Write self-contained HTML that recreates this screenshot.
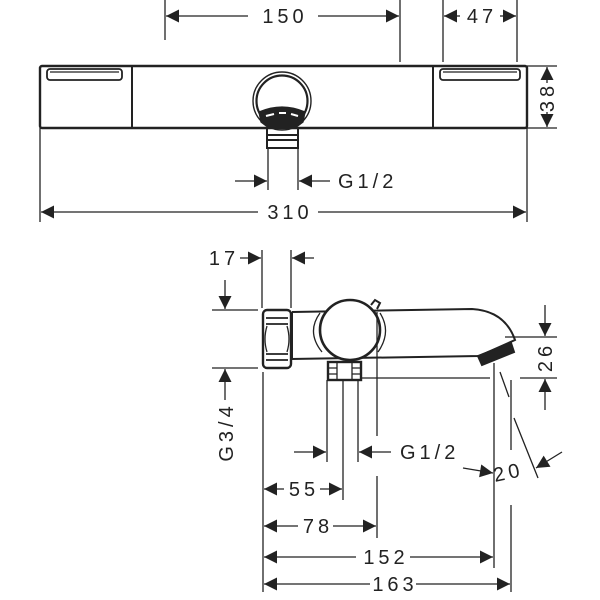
<!DOCTYPE html>
<html><head><style>html,body{margin:0;padding:0;background:#fff}svg{display:block}text{font-family:"Liberation Sans",sans-serif;font-size:20px;fill:#222;letter-spacing:4px}</style></head><body>
<svg width="600" height="600" viewBox="0 0 600 600" xmlns="http://www.w3.org/2000/svg">
<defs>
<marker id="a" viewBox="0 0 10 10" refX="10" refY="5" markerWidth="15" markerHeight="13" markerUnits="userSpaceOnUse" orient="auto-start-reverse"><path d="M0,0L10,5L0,10z" fill="#222"/></marker>
</defs>
<g stroke="#222" stroke-width="1.3" fill="none">
<!-- top view dims -->
<line x1="165" y1="0" x2="165" y2="40"/><line x1="400" y1="0" x2="400" y2="62"/>
<line x1="166" y1="16" x2="248" y2="16" marker-start="url(#a)"/><line x1="318" y1="16" x2="399" y2="16" marker-end="url(#a)"/>
<line x1="443" y1="0" x2="443" y2="62"/><line x1="517" y1="0" x2="517" y2="62"/>
<line x1="444" y1="16" x2="460" y2="16" marker-start="url(#a)"/><line x1="500" y1="16" x2="516" y2="16" marker-end="url(#a)"/>
<line x1="527" y1="66" x2="557" y2="66"/><line x1="527" y1="128" x2="557" y2="128"/>
<line x1="547" y1="67" x2="547" y2="83" marker-start="url(#a)"/><line x1="547" y1="112" x2="547" y2="127" marker-end="url(#a)"/>
<!-- body -->
<rect x="40" y="66" width="487" height="62" rx="2" stroke-width="2.4"/>
<line x1="132" y1="67" x2="132" y2="127" stroke-width="2"/><line x1="433" y1="67" x2="433" y2="127" stroke-width="2"/>
<rect x="47" y="69" width="75" height="11" rx="3" stroke-width="1.8"/><line x1="50" y1="72" x2="119" y2="72"/>
<rect x="440" y="69" width="80" height="11" rx="3" stroke-width="1.8"/><line x1="443" y1="72" x2="517" y2="72"/>
<circle cx="282" cy="101" r="29" stroke-width="1.4"/><circle cx="282" cy="101" r="25.5" stroke-width="2.2"/>
<path d="M259,112 Q282,102 305,112 L303,122 L295,128 L269,128 L261,122 Z" fill="#222"/>
<path d="M266,116 L274,114 M279,113 L286,113 M291,114 L298,116" stroke="#fff" stroke-width="2"/>
<rect x="267" y="128" width="31" height="20" stroke-width="2"/><line x1="268" y1="135" x2="297" y2="135" stroke-width="2"/><line x1="268" y1="140" x2="297" y2="140" stroke-width="2"/>
<line x1="268" y1="148" x2="268" y2="190"/><line x1="298" y1="148" x2="298" y2="190"/>
<line x1="235" y1="181" x2="267" y2="181" marker-end="url(#a)"/><line x1="330" y1="181" x2="299" y2="181" marker-end="url(#a)"/>
<line x1="40" y1="128" x2="40" y2="222"/><line x1="527" y1="128" x2="527" y2="222"/>
<line x1="41" y1="212" x2="258" y2="212" marker-start="url(#a)"/><line x1="318" y1="212" x2="526" y2="212" marker-end="url(#a)"/>
<!-- side view -->
<line x1="262" y1="250" x2="262" y2="308"/><line x1="291" y1="250" x2="291" y2="308"/>
<line x1="240" y1="258" x2="261" y2="258" marker-end="url(#a)"/><line x1="314" y1="258" x2="292" y2="258" marker-end="url(#a)"/>
<line x1="212" y1="310" x2="258" y2="310"/><line x1="212" y1="368" x2="258" y2="368"/>
<line x1="225" y1="280" x2="225" y2="309" marker-end="url(#a)"/><line x1="225" y1="400" x2="225" y2="369" marker-end="url(#a)"/>
<rect x="263" y="310" width="28" height="58" rx="4" stroke-width="2.4"/>
<path d="M266,318 h22 M266,324 h22 M266,354 h22 M266,360 h22" stroke-width="1.8"/>
<path d="M267,326 Q263,339 267,352 M287,326 Q291,339 287,352"/>
<path d="M292,312 L472,309 Q505,311 515,340 L479,356 L291,359 M292,312 L292,359" stroke-width="2"/>
<path d="M478,356 L511,343 L514,352 L482,365 Z" fill="#222" stroke-width="2"/>
<circle cx="350" cy="330" r="30" fill="#fff" stroke-width="2.6"/><path d="M320,313 Q306,332 322,352 M380,313 Q392,332 378,352"/>
<path d="M371,305 L375,300 L380,303 L377,309" stroke-width="2"/>
<line x1="377" y1="312" x2="377" y2="436"/><line x1="377" y1="476" x2="377" y2="538"/>
<rect x="328" y="362" width="33" height="18" fill="#fff" stroke-width="2.4"/><path d="M337,363 v16 M352,363 v16 M329,368 h8 M352,368 h8 M329,374 h8 M352,374 h8"/>
<line x1="361" y1="378" x2="490" y2="378"/><line x1="505" y1="337" x2="557" y2="337"/><line x1="520" y1="378" x2="557" y2="378"/>
<line x1="545" y1="305" x2="545" y2="336" marker-end="url(#a)"/><line x1="545" y1="410" x2="545" y2="379" marker-end="url(#a)"/>
<line x1="263" y1="372" x2="263" y2="592"/>
<line x1="327" y1="380" x2="327" y2="462"/><line x1="343" y1="380" x2="343" y2="500"/><line x1="358" y1="380" x2="358" y2="462"/>
<line x1="494" y1="363" x2="494" y2="568"/><line x1="511" y1="380" x2="511" y2="450"/><line x1="511" y1="505" x2="511" y2="592"/>
<line x1="500" y1="372" x2="509" y2="397"/><line x1="514" y1="418" x2="538" y2="478"/>
<line x1="463" y1="468" x2="493" y2="473" marker-end="url(#a)"/><line x1="562" y1="452" x2="536" y2="468" marker-end="url(#a)"/>
<line x1="294" y1="452" x2="326" y2="452" marker-end="url(#a)"/><line x1="391" y1="452" x2="359" y2="452" marker-end="url(#a)"/>
<line x1="264" y1="489" x2="284" y2="489" marker-start="url(#a)"/><line x1="320" y1="489" x2="342" y2="489" marker-end="url(#a)"/>
<line x1="264" y1="526" x2="298" y2="526" marker-start="url(#a)"/><line x1="333" y1="526" x2="376" y2="526" marker-end="url(#a)"/>
<line x1="264" y1="557" x2="356" y2="557" marker-start="url(#a)"/><line x1="410" y1="557" x2="493" y2="557" marker-end="url(#a)"/>
<line x1="264" y1="584" x2="370" y2="584" marker-start="url(#a)"/><line x1="416" y1="584" x2="510" y2="584" marker-end="url(#a)"/>
</g>
<text x="285" y="23" text-anchor="middle">150</text>
<text x="482" y="23" text-anchor="middle">47</text>
<text transform="translate(554,97) rotate(-90)" text-anchor="middle">38</text>
<text x="338" y="188">G1/2</text>
<text x="290" y="219" text-anchor="middle">310</text>
<text x="224" y="265" text-anchor="middle">17</text>
<text transform="translate(233,432) rotate(-90)" text-anchor="middle">G3/4</text>
<text transform="translate(552,357) rotate(-90)" text-anchor="middle">26</text>
<text x="400" y="459">G1/2</text>
<text transform="translate(495,482) rotate(-12)">20</text>
<text x="304" y="496" text-anchor="middle">55</text>
<text x="318" y="533" text-anchor="middle">78</text>
<text x="386" y="564" text-anchor="middle">152</text>
<text x="395" y="591" text-anchor="middle">163</text>
</svg>
</body></html>
